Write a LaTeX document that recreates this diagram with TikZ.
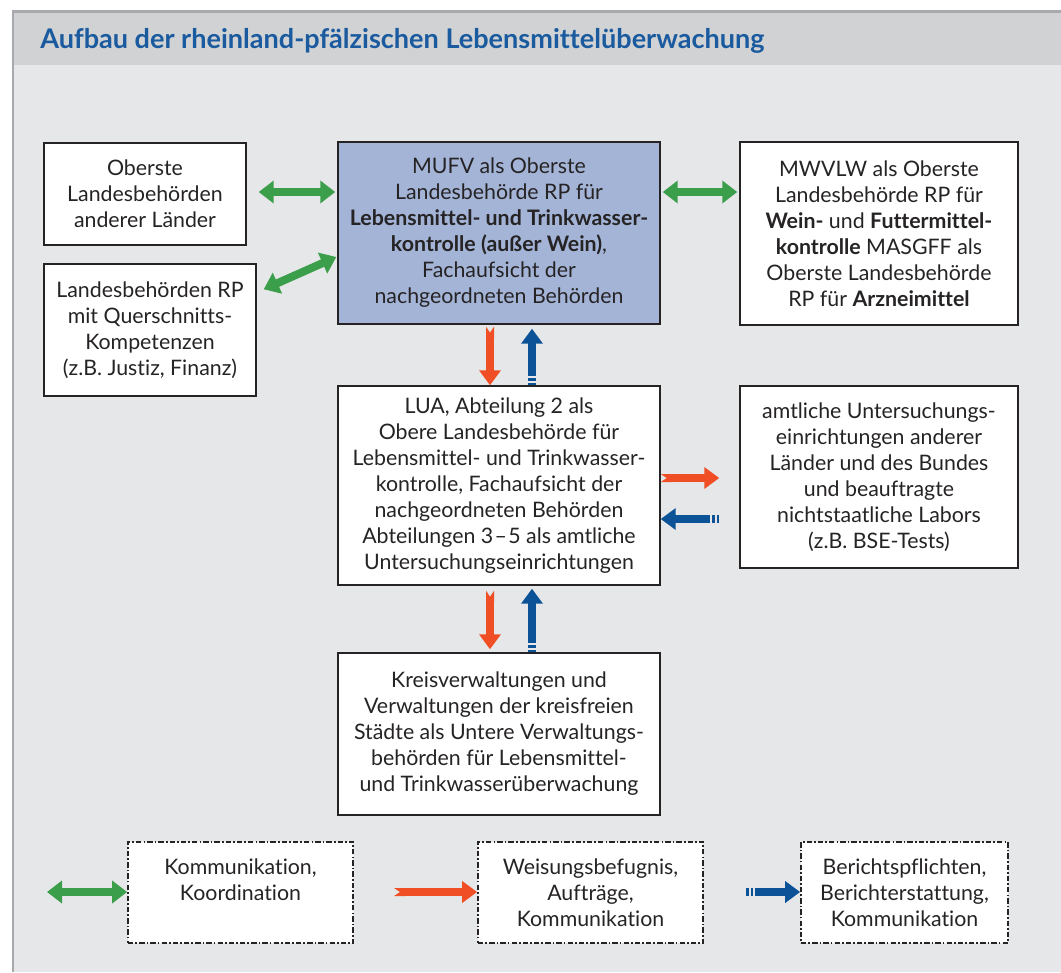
\documentclass[tikz,border=0pt]{standalone}
\usepackage{fontspec}
\setmainfont[Ligatures=NoCommon]{Lato}
\usetikzlibrary{arrows.meta,calc}

\definecolor{titelblau}{HTML}{1A5A9E}
\definecolor{kopfgrau}{HTML}{D1D2D4}
\definecolor{flaechengrau}{HTML}{E6E7E8}
\definecolor{randgrau}{HTML}{A7A9AC}
\definecolor{boxblau}{HTML}{A3B4D7}
\definecolor{textgrau}{HTML}{262324}
\definecolor{gruenpfeil}{HTML}{3A9E4A}
\definecolor{rotpfeil}{HTML}{F04E24}
\definecolor{blaupfeil}{HTML}{0B5297}

\begin{document}
\begin{tikzpicture}[x=0.75pt, y=-0.75pt,
        amt/.style={draw=textgrau, fill=white, line width=1.1pt, inner sep=0pt, align=center,
          text=textgrau, font=\fontsize{16pt}{19.5pt}\selectfont},
        legende/.style={amt, line width=1.3pt, dash pattern=on 4pt off 1.6pt on 1.2pt off 1.6pt},
        kommpfeil/.style={draw=gruenpfeil, line width=6pt,
          {Triangle[length=11.25pt,width=16.5pt]}-{Triangle[length=11.25pt,width=16.5pt]}},
        weisungspfeil/.style={draw=rotpfeil, line width=6pt,
          {Triangle Cap[reversed,length=4.5pt]}-{Triangle[length=11.25pt,width=15.75pt]}},
        berichtpfeil/.style={draw=blaupfeil, line width=6pt,
          -{Triangle[length=11.25pt,width=15.75pt]}, shorten <=7pt,
          preaction={draw=blaupfeil, line width=6pt, -, shorten <=0pt, shorten >=12pt,
            dash pattern=on 2pt off 1.5pt}}]

      % Frame
      \useasboundingbox (0,0) rectangle (1061,972);
      \fill[white] (0,0) rectangle (1061,972);
      \fill[flaechengrau] (13,13) rectangle (1061,972);
      \fill[kopfgrau] (13,13) rectangle (1061,65);
      \draw[randgrau, line width=2pt] (13,972) -- (13,11.5) -- (1061,11.5);
      \node[anchor=base west, inner sep=0pt, text=titelblau,
        font=\fontsize{20.3pt}{24pt}\selectfont\bfseries] (titel) at (40,48)
        {Aufbau der rheinland-pfälzischen Lebensmittelüberwachung};

      % Top row
      \node[amt, minimum width=151.5pt, minimum height=76.5pt] (andere) at (145,194)
        {Oberste\\Landesbehörden\\anderer Länder};
      \node[amt, minimum width=159pt, minimum height=99pt] (quer) at (150,330)
        {Landesbehörden RP\\mit Querschnitts-\\Kompetenzen\\(z.B. Justiz, Finanz)};
      \node[amt, fill=boxblau, minimum width=241.5pt, minimum height=136.5pt] (mufv) at (499,233)
        {MUFV als Oberste\\Landesbehörde RP für\\\textbf{Lebensmittel- und Trinkwasser-}\\
         \textbf{kontrolle (außer Wein)},\\Fachaufsicht der\\nachgeordneten Behörden};
      \node[amt, minimum width=208.5pt, minimum height=137.25pt] (mwvlw) at (879,233.5)
        {MWVLW als Oberste\\Landesbehörde RP für\\\textbf{Wein-} und \textbf{Futtermittel-}\\
         \textbf{kontrolle} MASGFF als\\Oberste Landesbehörde\\RP für \textbf{Arzneimittel}};

      % Middle row
      \node[amt, minimum width=241.5pt, minimum height=149.25pt] (lua) at (499,485.5)
        {LUA, Abteilung 2 als\\Obere Landesbehörde für\\Lebensmittel- und Trinkwasser-\\
         kontrolle, Fachaufsicht der\\nachgeordneten Behörden\\
         Abteilungen 3\kern1pt–\kern1pt5 als amtliche\\Untersuchungseinrichtungen};
      \node[amt, minimum width=208.5pt, minimum height=136.5pt] (amtl) at (879,477)
        {amtliche Untersuchungs-\\einrichtungen anderer\\Länder und des Bundes\\
         und beauftragte\\nichtstaatliche Labors\\(z.B. BSE-Tests)};

      % Bottom row
      \node[amt, minimum width=241.5pt, minimum height=121.5pt] (kreis) at (499,734)
        {Kreisverwaltungen und\\Verwaltungen der kreisfreien\\Städte als Untere Verwaltungs-\\
         behörden für Lebensmittel-\\und Trinkwasserüberwachung};

      % Legend
      \node[legende, minimum width=168.75pt, minimum height=75.75pt] (leg1) at (240.5,892.5)
        {Kommunikation,\\Koordination\\\mbox{}};
      \node[legende, minimum width=168.75pt, minimum height=75.75pt] (leg2) at (590.5,892.5)
        {Weisungsbefugnis,\\Aufträge,\\Kommunikation};
      \node[legende, minimum width=155.25pt, minimum height=75.75pt] (leg3) at (904.5,892.5)
        {Berichtspflichten,\\Berichterstattung,\\Kommunikation};
      \coordinate (gruenstart) at (47,892);
      \coordinate (rotstart) at (394,892);
      \coordinate (blaustart) at (746,892);

      % Communication
      \draw[kommpfeil, shorten <=9pt, shorten >=1.5pt] ($(andere.east)+(0,-2)$) -- ($(andere.east -| mufv.west)+(0,-2)$);
      \draw[kommpfeil] ($(quer.north east)+(7,26)$) -- ($(mufv.west)+(-1,24)$);
      \draw[kommpfeil, shorten <=1.5pt, shorten >=1.5pt] ($(mufv.east)+(0,-41)$) -- ($(mwvlw.west)+(0,-41.5)$);

      % Instructions
      \draw[weisungspfeil, shorten <=1.5pt] ($(mufv.south)+(-9,0)$) -- ($(lua.north)+(-9,0)$);
      \draw[weisungspfeil, shorten >=15pt] ($(lua.east)+(0,-7.5)$) -- ($(lua.east -| amtl.west)+(0,-7.5)$);
      \draw[weisungspfeil, shorten <=3.75pt, shorten >=2.25pt] ($(lua.south)+(-9,0)$) -- ($(kreis.north)+(-9,0)$);

      % Reports
      \draw[berichtpfeil, shorten >=3pt] ($(lua.north)+(33,0)$) -- ($(mufv.south)+(33,0)$);
      \draw[berichtpfeil] ($(lua.east -| amtl.west)+(-20,33.5)$) -- ($(lua.east)+(0,33.5)$);
      \draw[berichtpfeil, shorten >=2.25pt] ($(kreis.north)+(33,0)$) -- ($(lua.south)+(33,0)$);

      % Legend arrows
      \draw[kommpfeil] (gruenstart) -- (gruenstart -| leg1.west);
      \draw[weisungspfeil] (rotstart) -- (rotstart -| leg2.west);
      \draw[berichtpfeil] (blaustart) -- (blaustart -| leg3.west);
    \end{tikzpicture}
\end{document}
